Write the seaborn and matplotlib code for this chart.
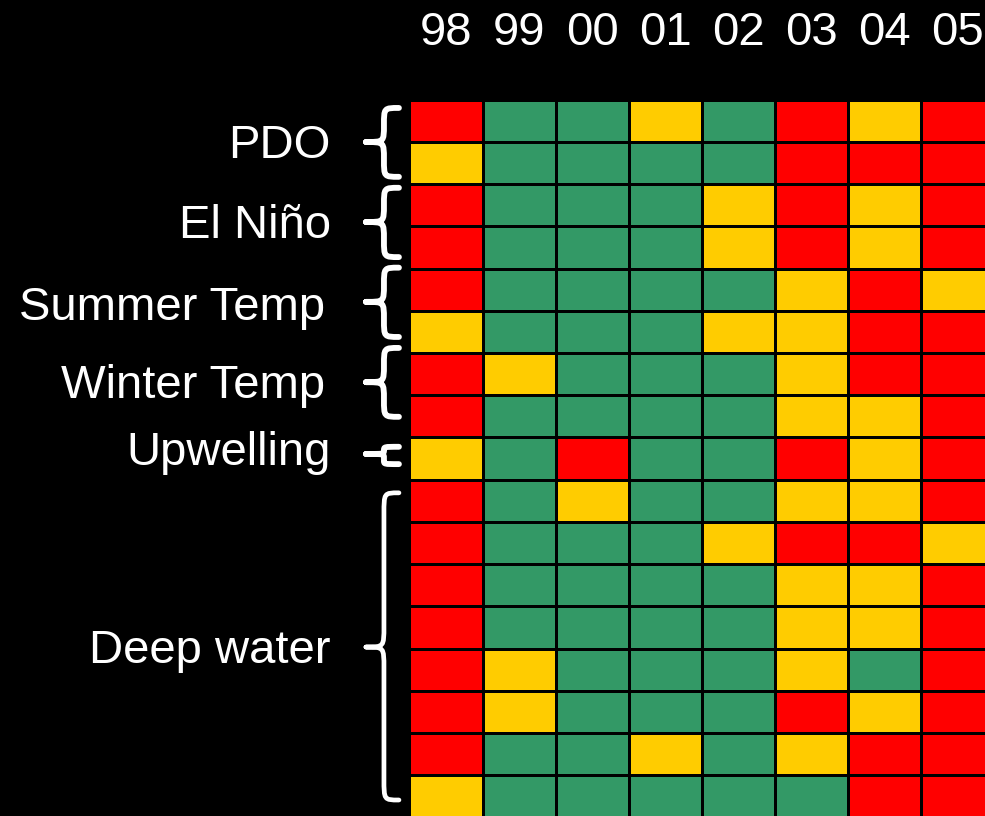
import matplotlib
matplotlib.use("Agg")
import numpy as np
import pandas as pd
import seaborn as sns
import matplotlib.pyplot as plt
from matplotlib.colors import ListedColormap
from matplotlib.path import Path
from matplotlib.patches import PathPatch

# ---------------- data ----------------
years = ["98", "99", "00", "01", "02", "03", "04", "05"]
row_ids = ["PDO a", "PDO b", "El Niño a", "El Niño b",
           "Summer Temp a", "Summer Temp b", "Winter Temp a", "Winter Temp b",
           "Upwelling",
           "Deep 1", "Deep 2", "Deep 3", "Deep 4", "Deep 5", "Deep 6", "Deep 7", "Deep 8"]
# 0 = green (good), 1 = yellow (intermediate), 2 = red (poor)
status = [
    [2, 0, 0, 1, 0, 2, 1, 2],
    [1, 0, 0, 0, 0, 2, 2, 2],
    [2, 0, 0, 0, 1, 2, 1, 2],
    [2, 0, 0, 0, 1, 2, 1, 2],
    [2, 0, 0, 0, 0, 1, 2, 1],
    [1, 0, 0, 0, 1, 1, 2, 2],
    [2, 1, 0, 0, 0, 1, 2, 2],
    [2, 0, 0, 0, 0, 1, 1, 2],
    [1, 0, 2, 0, 0, 2, 1, 2],
    [2, 0, 1, 0, 0, 1, 1, 2],
    [2, 0, 0, 0, 1, 2, 2, 1],
    [2, 0, 0, 0, 0, 1, 1, 2],
    [2, 0, 0, 0, 0, 1, 1, 2],
    [2, 1, 0, 0, 0, 1, 0, 2],
    [2, 1, 0, 0, 0, 2, 1, 2],
    [2, 0, 0, 1, 0, 1, 2, 2],
    [1, 0, 0, 0, 0, 0, 2, 2],
]
status_colors = ["#339966", "#FFCC00", "#FF0000"]

group_names = ["PDO", "El Niño", "Summer Temp", "Winter Temp", "Upwelling", "Deep water"]
group_label_y = [1.385, 3.28, 5.22, 7.06, 8.65, 13.34]      # baseline, in row units
group_label_x = [-1.074, -1.074, -1.156, -1.156, -1.074, -1.074]  # right edge, column units
brace_top = [0.20, 2.09, 3.98, 5.88, 8.22, 9.31]
brace_tip = [1.006, 2.90, 4.79, 6.69, 8.39, 12.96]
brace_bottom = [1.83, 3.73, 5.62, 7.51, 8.63, 16.58]
brace_lw = [4.2, 4.2, 4.2, 4.2, 4.2, 3.4]

# ---------------- figure ----------------
sns.set_style("white")
plt.rcParams["font.family"] = ["Liberation Sans", "DejaVu Sans"]

fig = plt.figure(figsize=(9.85, 8.16), dpi=100, facecolor="black")
ax = fig.add_axes([0.4157, -0.00214, 0.5937, 0.8802])
ax.set_facecolor("black")

df = pd.DataFrame(status, index=row_ids, columns=years)
cmap = ListedColormap(status_colors)
sns.heatmap(df, ax=ax, cmap=cmap, vmin=-0.5, vmax=2.5, cbar=False,
            linewidths=2.0, linecolor="black",
            xticklabels=years, yticklabels=False)

ax.set_xlabel("")
ax.set_ylabel("")
ax.xaxis.tick_top()
ax.tick_params(axis="x", top=True, bottom=False, labeltop=True, labelbottom=False,
               length=0, pad=32, labelsize=34, labelcolor="white")
for lab in ax.get_xticklabels():
    lab.set_rotation(0)
for s in ax.spines.values():
    s.set_visible(False)

# group labels
for name, ly, lx in zip(group_names, group_label_y, group_label_x):
    ax.text(lx, ly, name, ha="right", va="baseline", fontsize=34,
            color="white", clip_on=False)

# braces
x_r, x_m, x_l = -0.144, -0.349, -0.595
for yt, yc, yb, lw in zip(brace_top, brace_tip, brace_bottom, brace_lw):
    r = min(0.5, (yc - yt) / 2.0, (yb - yc) / 2.0)
    verts = [
        (x_r, yt),
        (x_m, yt), (x_m, yt), (x_m, yt + r),
        (x_m, yc - r),
        (x_m, yc), (x_m, yc), (x_l, yc),
        (x_m, yc), (x_m, yc), (x_m, yc + r),
        (x_m, yb - r),
        (x_m, yb), (x_m, yb), (x_r, yb),
    ]
    codes = [Path.MOVETO,
             Path.CURVE4, Path.CURVE4, Path.CURVE4,
             Path.LINETO,
             Path.CURVE4, Path.CURVE4, Path.CURVE4,
             Path.CURVE4, Path.CURVE4, Path.CURVE4,
             Path.LINETO,
             Path.CURVE4, Path.CURVE4, Path.CURVE4]
    patch = PathPatch(Path(verts, codes), facecolor="none", edgecolor="white",
                      lw=lw, capstyle="round", joinstyle="round", clip_on=False)
    ax.add_patch(patch)

fig.savefig("out.png", dpi=100, facecolor="black")
